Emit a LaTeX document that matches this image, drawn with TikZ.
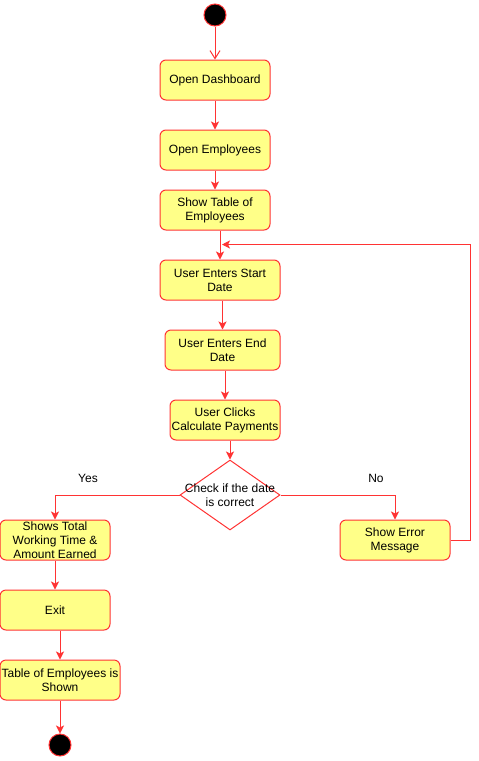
\documentclass[tikz,border=0pt]{standalone}
\usepackage{fontspec}
\setmainfont{Liberation Sans}
\usepackage{tikz}
\usetikzlibrary{shapes.geometric}
\usetikzlibrary{arrows.meta}

\definecolor{actfill}{HTML}{FFFF88}
\definecolor{actline}{HTML}{FF3333}

\begin{document}
\begin{tikzpicture}[x=1pt,y=-1pt,
    font=\fontsize{12}{14}\selectfont,
    act/.style={rectangle,rounded corners=6pt,draw=actline,fill=actfill,
                line width=1pt,align=center,inner sep=0pt,minimum height=40pt},
    decision/.style={diamond,draw=actline,fill=white,line width=1pt,
                     inner sep=0pt,minimum width=100pt,minimum height=70pt},
    terminal/.style={circle,draw=actline,fill=black,line width=1pt,
                     inner sep=0pt,minimum size=22pt},
    flow/.style={draw=actline,line width=1pt,-{Stealth[length=8pt,width=8pt,inset=2pt]}},
    begflow/.style={draw=actline,line width=1pt,-{Straight Barb[length=8pt,width=10pt]}},
  ]
  \useasboundingbox (0,0) rectangle (479,761);

  % activities
  \node[terminal] (start) at (215,15) {};
  \node[act,minimum width=110pt] (dash) at (215,80) {Open Dashboard};
  \node[act,minimum width=110pt] (emp) at (215,150) {Open Employees};
  \node[act,minimum width=110pt] (tbl) at (215,210) {Show Table of\\Employees};
  \node[act,minimum width=120pt] (sdate) at (220,280) {User Enters Start\\Date};
  \node[act,minimum width=115pt] (edate) at (222.5,350) {User Enters End\\Date};
  \node[act,minimum width=110pt] (calc) at (225,420) {User Clicks\\Calculate Payments};
  \node[decision] (chk) at (230,495) {};
  \node[align=center] (chktxt) at (chk) {Check if the date\\is correct};
  \node[act,minimum width=110pt] (err) at (395,540) {Show Error\\Message};
  \node[act,minimum width=110pt] (total) at (55,540) {Shows Total\\Working Time \&\\Amount Earned};
  \node[act,minimum width=110pt] (exit) at (55,610) {Exit};
  \node[act,minimum width=120pt] (shown) at (60,680) {Table of Employees is\\Shown};
  \node[terminal] (stop) at (60,745) {};

  % labels
  \node (yes) at (88,478) {Yes};
  \node (no) at (376,478) {No};

  % flows
  \draw[begflow] (start) -- (dash);
  \draw[flow] (dash) -- (emp);
  \draw[flow] (emp) -- (tbl);
  \draw[flow] (tbl.south -| sdate.north) -- (sdate);
  \draw[flow] (sdate.south -| edate.north) -- (edate);
  \draw[flow] (edate.south -| calc.north) -- (calc);
  \draw[flow] (calc.south -| chk.north) -- (chk);
  \draw[flow] (chk.west) -| (total);
  \draw[flow] (chk.east) -| (err);
  \draw[flow] (err.east) -- ++(20,0) |- ([xshift=2pt,yshift=15pt]sdate.north);
  \draw[flow] (total) -- (exit);
  \draw[flow] (exit.south -| shown.north) -- (shown);
  \draw[flow] (shown) -- (stop);
\end{tikzpicture}
\end{document}
